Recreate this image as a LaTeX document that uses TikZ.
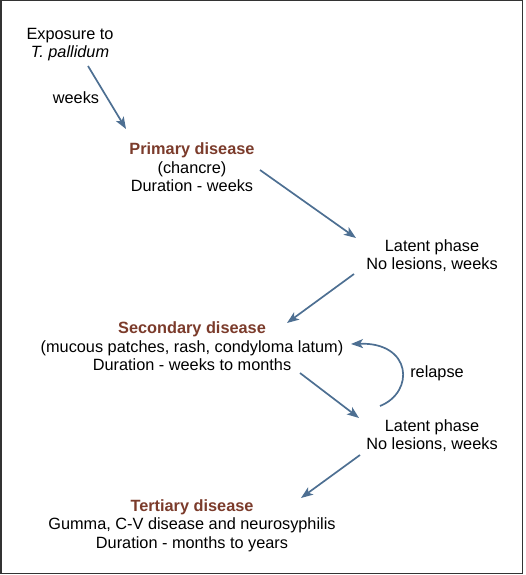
\documentclass[tikz,border=0pt]{standalone}
\usepackage{fontspec}
\setmainfont{Liberation Sans}
\usetikzlibrary{arrows.meta}
\definecolor{arrowblue}{HTML}{4D6F92}
\definecolor{stagebrown}{HTML}{7B3B2B}
\definecolor{framegray}{HTML}{333333}
\tikzset{
  txt/.style={align=center, inner sep=0pt, font=\fontsize{16.3pt}{18.6pt}\selectfont},
  conn/.style={draw=arrowblue, line width=1.7pt, -{Stealth[length=12pt,width=9pt,inset=3pt]}}
}
\begin{document}
\begin{tikzpicture}[x=1pt,y=-1pt]
\useasboundingbox (0,0) rectangle (525,575);
\draw[framegray, line width=1.5pt] (0.75,0.75) rectangle (522.6,573.6);

\node[txt] (exp) at (70,44.5) {Exposure to\\\textit{T. pallidum}};
\node[txt] (wk) at (76,98) {weeks};
\node[txt] (prim) at (192,167.5) {{\bfseries\color{stagebrown}Primary disease}\\(chancre)\\Duration - weeks};
\node[txt] (lat1) at (432,255.5) {Latent phase\\No lesions, weeks};
\node[txt] (sec) at (192,346.5) {{\bfseries\color{stagebrown}Secondary disease}\\(mucous patches, rash, condyloma latum)\\Duration - weeks to months};
\node[txt] (rel) at (437,373) {relapse};
\node[txt] (lat2) at (432,435.5) {Latent phase\\No lesions, weeks};
\node[txt] (ter) at (192,525.5) {{\bfseries\color{stagebrown}Tertiary disease}\\Gumma, C-V disease and neurosyphilis\\Duration - months to years};

\coordinate (a1s) at (88,66);   \coordinate (a1e) at (126,129);
\coordinate (a2s) at (260,170); \coordinate (a2e) at (356,238);
\coordinate (a3s) at (354,274); \coordinate (a3e) at (287,323);
\coordinate (a4s) at (300,373); \coordinate (a4e) at (359,418);
\coordinate (a5s) at (360,455); \coordinate (a5e) at (301,498);
\coordinate (rs) at (380,406);  \coordinate (re) at (351,344);

\draw[conn] (a1s) -- (a1e);
\draw[conn] (a2s) -- (a2e);
\draw[conn] (a3s) -- (a3e);
\draw[conn] (a4s) -- (a4e);
\draw[conn] (a5s) -- (a5e);
\draw[conn] (rs) .. controls (415,392) and (412,342) .. (re);
\end{tikzpicture}
\end{document}
